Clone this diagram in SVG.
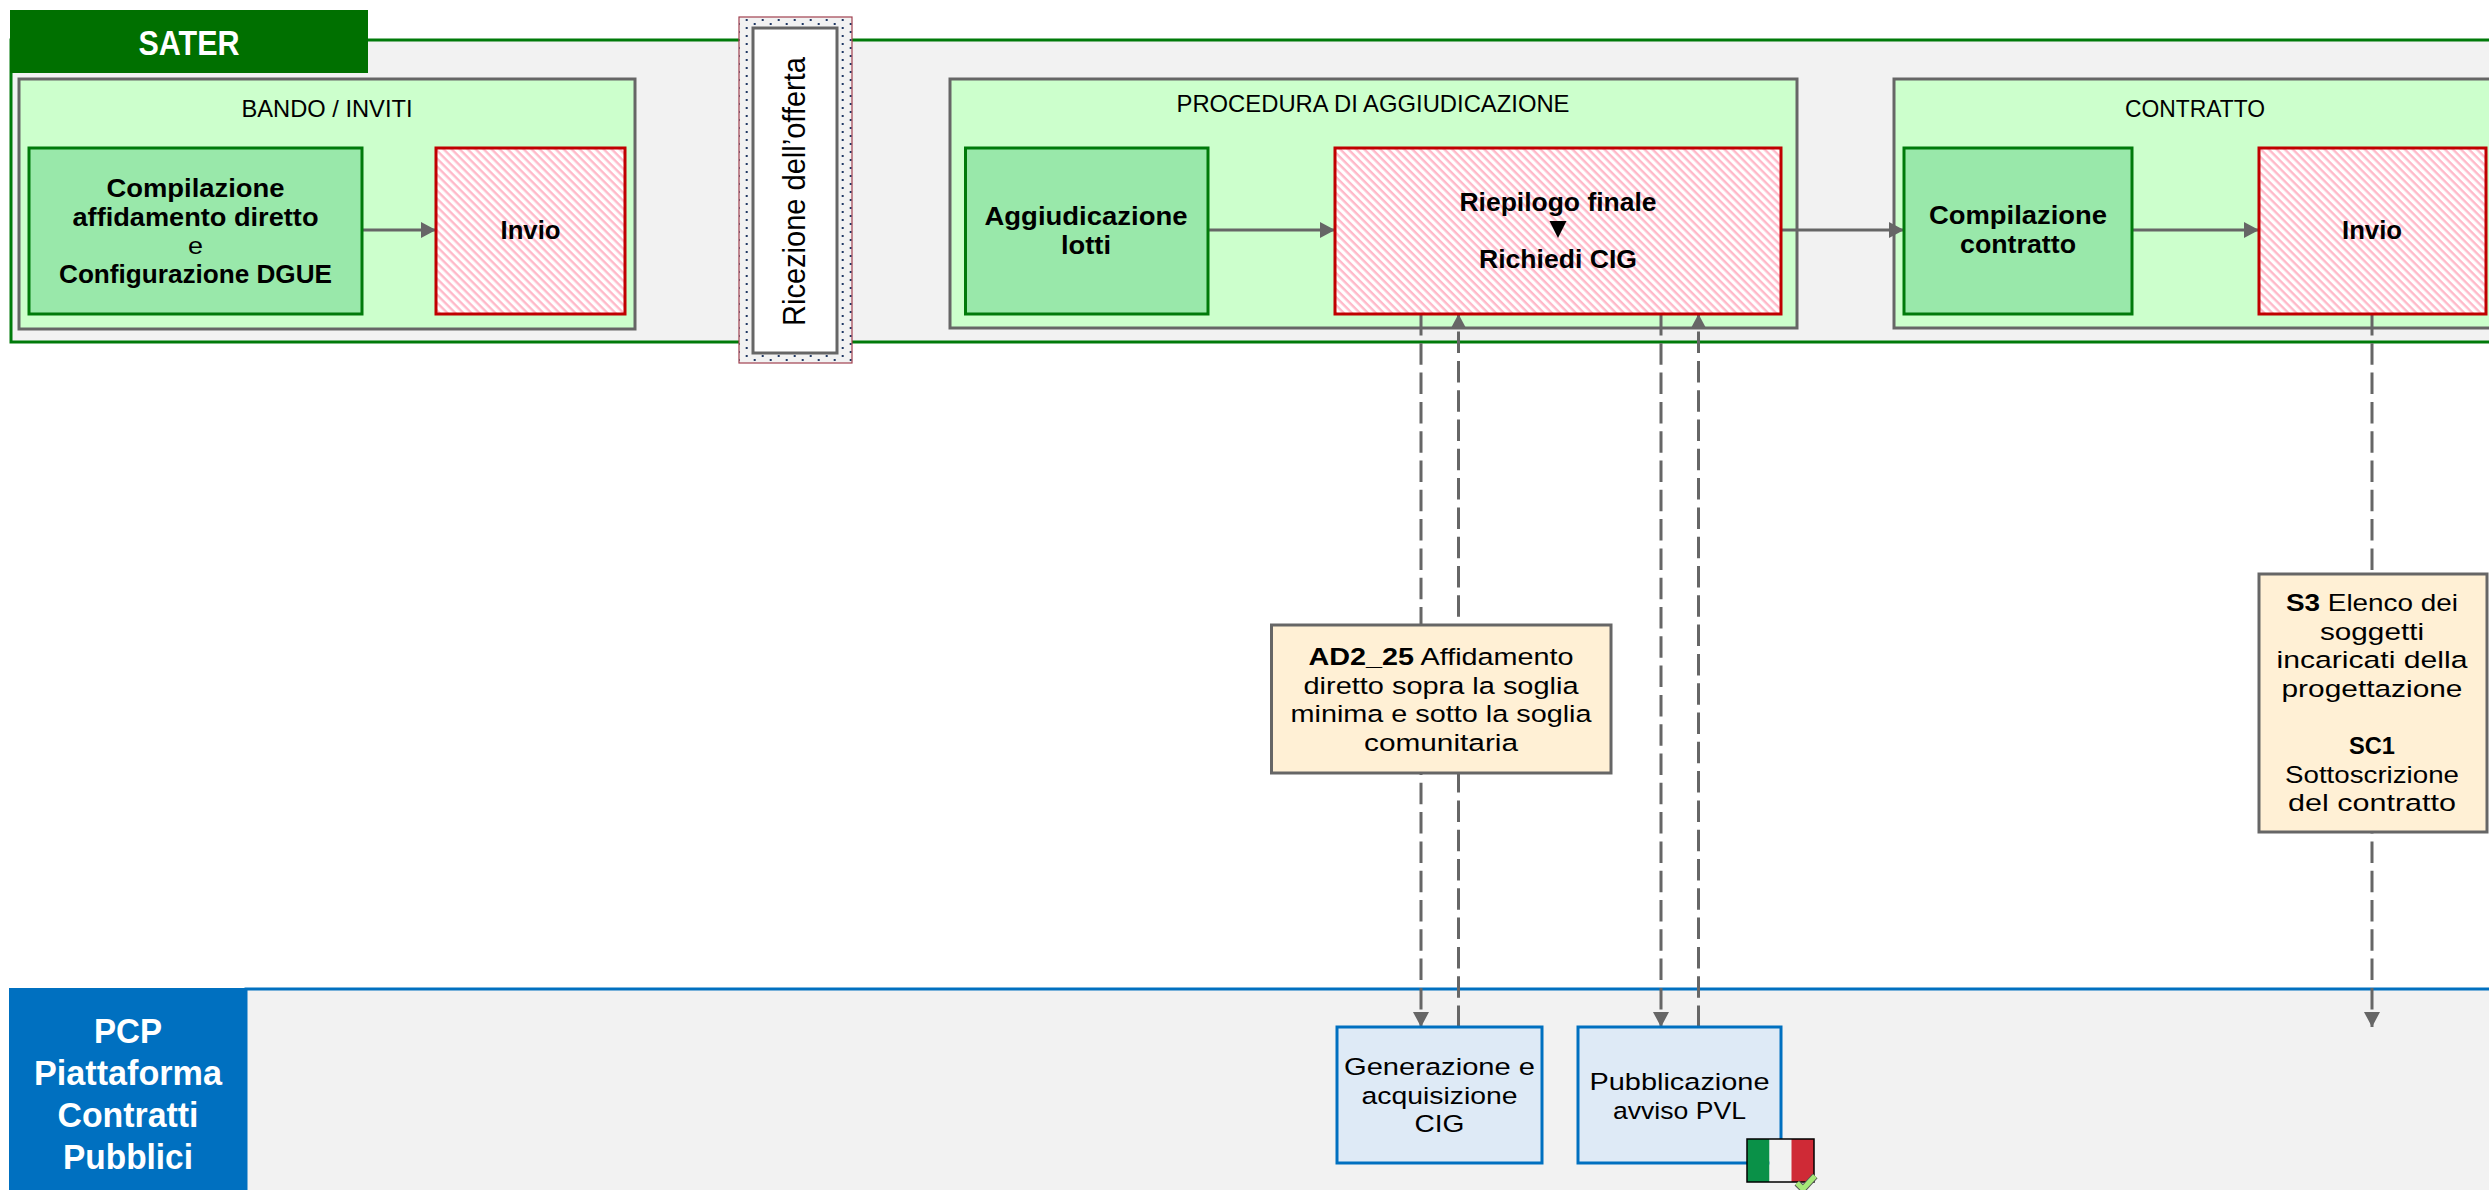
<svg xmlns="http://www.w3.org/2000/svg" width="2489" height="1190" viewBox="0 0 2489 1190">
<style>
text{font-family:"Liberation Sans","Open Sans",sans-serif;text-anchor:middle;fill:#000;font-size:24.500px}
.b{font-weight:700;font-size:25px}
.h{font-size:24px}
.w{fill:#fff;font-weight:700;font-size:35.500px}
.lane{fill:#F2F2F2}
.grp{fill:#CCFFCC;stroke:#666;stroke-width:3}
.task{fill:#99E8AA;stroke:#007A0A;stroke-width:3}
.send{fill:url(#hatch);stroke:#C00000;stroke-width:3}
.note{fill:#FFF0D5;stroke:#666;stroke-width:3}
.pcp{fill:#DEEAF6;stroke:#0070C0;stroke-width:3}
.c{fill:none;stroke:#666;stroke-width:3}
.d{stroke-dasharray:21.5 7.8}
</style>
<defs>
<pattern id="hatch" width="5.66" height="5.66" patternUnits="userSpaceOnUse" patternTransform="rotate(45)">
<rect width="5.66" height="5.66" fill="#fff"/><rect width="5.66" height="2.4" fill="#FFB9C9"/>
</pattern>
<pattern id="dots" x="0" y="1" width="16" height="8" patternUnits="userSpaceOnUse">
<rect width="16" height="8" fill="#F2F2F2"/><rect x="9.700" y="2" width="2" height="2" fill="#1F3864"/><rect x="1.700" y="6" width="2" height="2" fill="#1F3864"/>
</pattern>
<marker id="a" markerUnits="userSpaceOnUse" markerWidth="16" markerHeight="16" refX="15" refY="8" orient="auto"><path d="M0 0L15 8L0 16Z" fill="#666"/></marker>
</defs>
<g id="lane-sater">
<rect class="lane" x="11" y="40" width="2480" height="302" stroke="#007A0A" stroke-width="3"/>
<rect x="10" y="10" width="358" height="63" fill="#007000"/>
<text class="w" x="189" y="55" textLength="101" lengthAdjust="spacingAndGlyphs">SATER</text>
</g>
<g id="lane-pcp">
<rect class="lane" x="246" y="989" width="2250" height="210" stroke="#0070C0" stroke-width="3"/>
<rect x="9" y="988" width="237" height="202" fill="#0070C0"/>
<text class="w" x="128" y="1043" textLength="68" lengthAdjust="spacingAndGlyphs">PCP</text>
<text class="w" x="128" y="1085" textLength="188" lengthAdjust="spacingAndGlyphs">Piattaforma</text>
<text class="w" x="128" y="1127" textLength="141" lengthAdjust="spacingAndGlyphs">Contratti</text>
<text class="w" x="128" y="1169" textLength="130" lengthAdjust="spacingAndGlyphs">Pubblici</text>
</g>
<g id="grp-bando"><rect class="grp" x="19" y="79" width="616" height="250"/><text class="h" x="327" y="117" textLength="171" lengthAdjust="spacingAndGlyphs">BANDO / INVITI</text></g>
<g id="grp-aggiudicazione"><rect class="grp" x="950" y="79" width="847" height="249"/><text class="h" x="1373" y="112" textLength="393" lengthAdjust="spacingAndGlyphs">PROCEDURA DI AGGIUDICAZIONE</text></g>
<g id="grp-contratto"><rect class="grp" x="1894" y="79" width="610" height="249"/><text class="h" x="2195" y="117" textLength="140" lengthAdjust="spacingAndGlyphs">CONTRATTO</text></g>
<g id="connectors">
<path class="c" marker-end="url(#a)" d="M362 230H436"/>
<path class="c" marker-end="url(#a)" d="M1208 230H1335"/>
<path class="c" marker-end="url(#a)" d="M1781 230H1904"/>
<path class="c" marker-end="url(#a)" d="M2132 230H2259"/>
<path class="c d" marker-end="url(#a)" d="M1421 314V1027"/>
<path class="c d" marker-end="url(#a)" d="M1458.500 1027V314"/>
<path class="c d" marker-end="url(#a)" d="M1661 314V1027"/>
<path class="c d" marker-end="url(#a)" d="M1698.500 1027V314"/>
<path class="c d" marker-end="url(#a)" d="M2372 314V1027"/>
</g>
<g id="ricezione">
<rect x="739" y="17" width="113" height="346" fill="url(#dots)" stroke="#A0404F" stroke-width="1.200"/>
<rect x="753" y="28" width="84" height="325" fill="#fff" stroke="#666" stroke-width="3"/>
<text transform="translate(805 191.500) rotate(-90)" style="font-size:31px" textLength="269" lengthAdjust="spacingAndGlyphs">Ricezione dell’offerta</text>
</g>
<g id="task-compilazione"><rect class="task" x="29" y="148" width="333" height="166"/>
<text class="b" x="195.500" y="196.500" textLength="178" lengthAdjust="spacingAndGlyphs">Compilazione</text>
<text class="b" x="195.500" y="225.500" textLength="246" lengthAdjust="spacingAndGlyphs">affidamento diretto</text>
<text x="195.500" y="254" textLength="15" lengthAdjust="spacingAndGlyphs">e</text>
<text class="b" x="195.500" y="283" textLength="273" lengthAdjust="spacingAndGlyphs">Configurazione DGUE</text></g>
<g id="send-invio1"><rect class="send" x="436" y="148" width="189" height="166"/><text class="b" x="530.500" y="239" textLength="60" lengthAdjust="spacingAndGlyphs">Invio</text></g>
<g id="task-aggiudicazione"><rect class="task" x="965.500" y="148" width="242.500" height="166"/>
<text class="b" x="1086" y="225" textLength="203" lengthAdjust="spacingAndGlyphs">Aggiudicazione</text>
<text class="b" x="1086" y="254" textLength="50" lengthAdjust="spacingAndGlyphs">lotti</text></g>
<g id="send-riepilogo"><rect class="send" x="1335" y="148" width="446" height="166"/>
<text class="b" x="1558" y="211" textLength="197" lengthAdjust="spacingAndGlyphs">Riepilogo finale</text>
<path d="M1549.500 221H1566.500L1558 238Z" fill="#000"/>
<text class="b" x="1558" y="267.500" textLength="158" lengthAdjust="spacingAndGlyphs">Richiedi CIG</text></g>
<g id="task-contratto"><rect class="task" x="1904" y="148" width="228" height="166"/>
<text class="b" x="2018" y="224" textLength="178" lengthAdjust="spacingAndGlyphs">Compilazione</text>
<text class="b" x="2018" y="253" textLength="116" lengthAdjust="spacingAndGlyphs">contratto</text></g>
<g id="send-invio2"><rect class="send" x="2259" y="148" width="227" height="166"/><text class="b" x="2372" y="239" textLength="60" lengthAdjust="spacingAndGlyphs">Invio</text></g>
<g id="note-ad2"><rect class="note" x="1271.500" y="625" width="339.500" height="148"/>
<text x="1441" y="665" textLength="265" lengthAdjust="spacingAndGlyphs"><tspan font-weight="700">AD2_25</tspan> Affidamento</text>
<text x="1441" y="693.500" textLength="275" lengthAdjust="spacingAndGlyphs">diretto sopra la soglia</text>
<text x="1441" y="722" textLength="301" lengthAdjust="spacingAndGlyphs">minima e sotto la soglia</text>
<text x="1441" y="750.500" textLength="154" lengthAdjust="spacingAndGlyphs">comunitaria</text></g>
<g id="note-s3"><rect class="note" x="2259" y="574" width="228" height="258"/>
<text x="2372" y="611" textLength="172" lengthAdjust="spacingAndGlyphs"><tspan font-weight="700">S3</tspan> Elenco dei</text>
<text x="2372" y="639.500" textLength="104" lengthAdjust="spacingAndGlyphs">soggetti</text>
<text x="2372" y="668" textLength="191" lengthAdjust="spacingAndGlyphs">incaricati della</text>
<text x="2372" y="696.500" textLength="181" lengthAdjust="spacingAndGlyphs">progettazione</text>
<text x="2372" y="754" font-weight="700" textLength="46" lengthAdjust="spacingAndGlyphs">SC1</text>
<text x="2372" y="782.500" textLength="174" lengthAdjust="spacingAndGlyphs">Sottoscrizione</text>
<text x="2372" y="811" textLength="168" lengthAdjust="spacingAndGlyphs">del contratto</text></g>
<g id="pcp-cig"><rect class="pcp" x="1337" y="1027" width="205" height="136"/>
<text x="1439.500" y="1075" textLength="191" lengthAdjust="spacingAndGlyphs">Generazione e</text>
<text x="1439.500" y="1103.500" textLength="156" lengthAdjust="spacingAndGlyphs">acquisizione</text>
<text x="1439.500" y="1132" textLength="50" lengthAdjust="spacingAndGlyphs">CIG</text></g>
<g id="pcp-pvl"><rect class="pcp" x="1578" y="1027" width="203" height="136"/>
<text x="1679.500" y="1090" textLength="180" lengthAdjust="spacingAndGlyphs">Pubblicazione</text>
<text x="1679.500" y="1118.500" textLength="133" lengthAdjust="spacingAndGlyphs">avviso PVL</text></g>
<g id="flag">
<rect x="1747" y="1139" width="22.500" height="43" fill="#0A9148"/><rect x="1769.500" y="1139" width="22" height="43" fill="#F2F2F2"/><rect x="1791.500" y="1139" width="22.500" height="43" fill="#CF2A36"/>
<rect x="1747" y="1139" width="67" height="43" fill="none" stroke="#000" stroke-width="1.500"/>
<path d="M1797 1183L1803 1189L1815 1176" fill="none" stroke="#555" stroke-width="7"/>
<path d="M1797 1183L1803 1189L1815 1176" fill="none" stroke="#A6E878" stroke-width="5"/>
</g>
</svg>
